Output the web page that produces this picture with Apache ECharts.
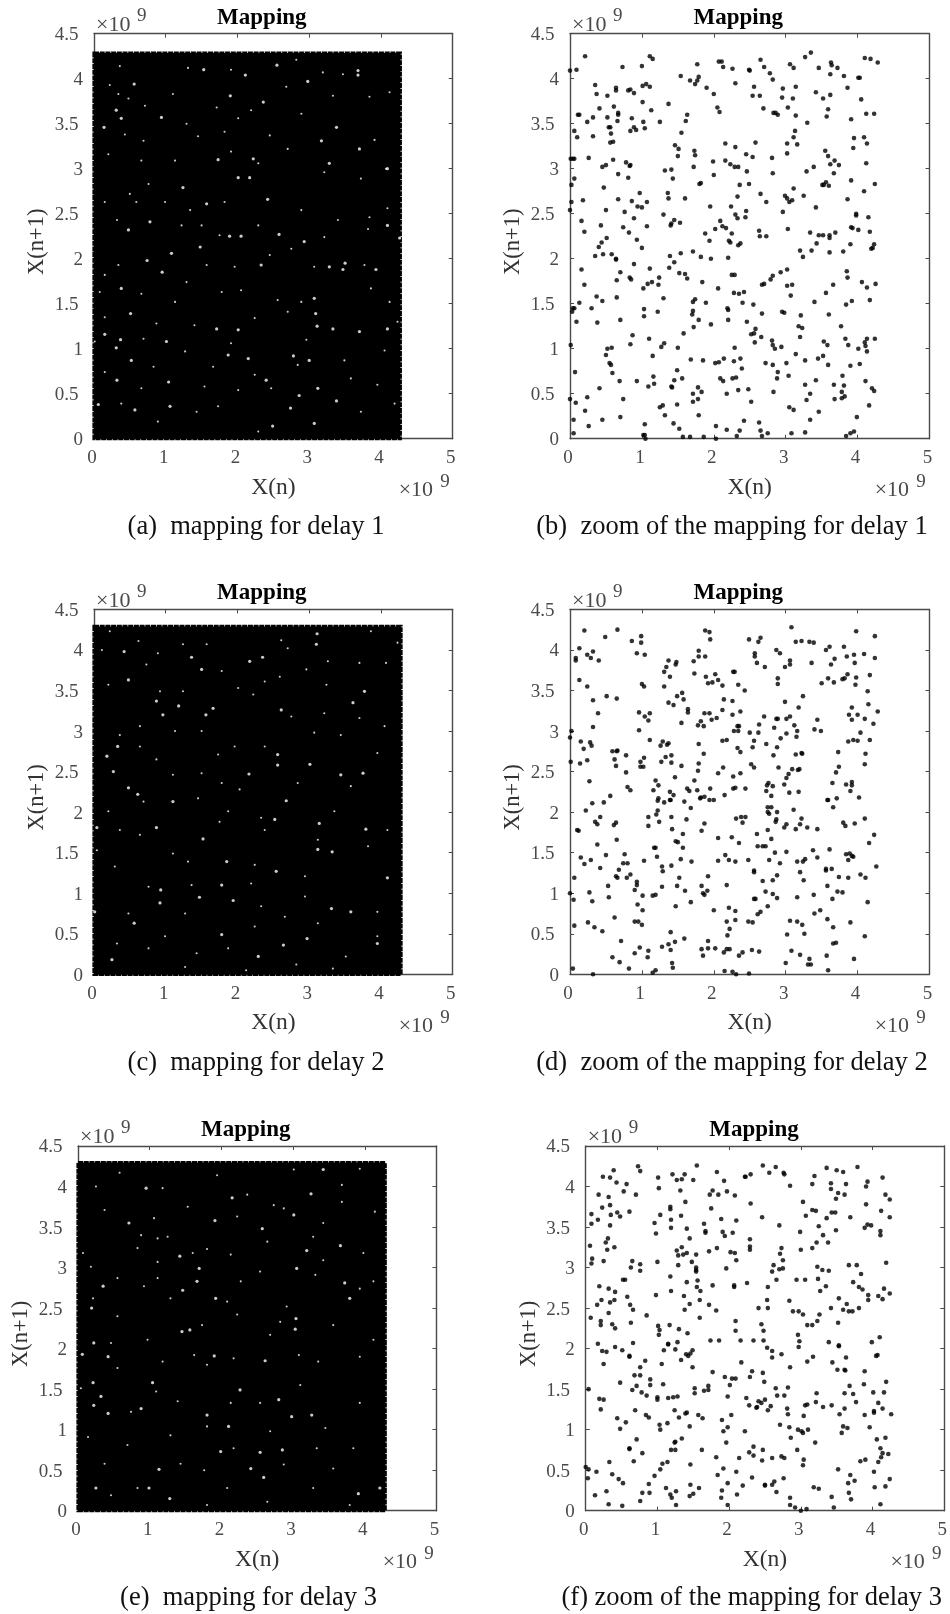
<!DOCTYPE html>
<html><head><meta charset="utf-8">
<style>html,body{margin:0;padding:0;background:#fff}#c{width:950px;height:1614px}</style>
<script src="https://cdn.jsdelivr.net/npm/echarts@6/dist/echarts.min.js"></script>
</head><body><div id="c"></div>
<script>
// All values are in units of 1e9.
var xTickValues = [0,1,2,3,4,5];
var yTickValues = [0,0.5,1,1.5,2,2.5,3,3.5,4,4.5];

// Panels (a), (c), (e) hold far too many overlapping points to read individually.
// They are drawn as the visible extent of the cloud [xMin,yMin,xMax,yMax] plus the white gaps that could be read.
var cloudExtentA = [[0,0,4.27,4.285]];
var cloudExtentC = [[0,0,4.28,4.29]];
var cloudExtentE = [[0,0,4.285,4.295]];

var gapsA = [[1.53,4.10],[2.55,4.15],[2.11,4.04],[2.98,3.97],[3.68,4.09],[3.68,4.04],[0.56,3.94],[1.90,3.81],[2.36,3.74],[0.38,3.56],[0.14,3.46],[0.31,3.65],[0.94,3.57],[3.38,3.46],[3.70,3.22],[3.17,3.31],[1.73,3.10],[3.28,3.06],[1.24,2.79],[1.57,2.61],[2.42,2.66],[4.09,3.00],[2.01,2.90],[2.17,2.90],[2.22,3.11],[0.78,2.41],[0.48,2.32],[1.89,2.25],[2.05,2.25],[2.58,2.27],[1.48,2.13],[2.93,2.19],[4.26,2.23],[1.08,2.06],[0.74,1.98],[0.95,1.85],[2.33,1.93],[3.50,1.95],[3.28,1.91],[3.47,1.88],[3.93,1.88],[0.38,1.67],[3.07,1.56],[3.09,1.39],[0.51,1.39],[3.11,1.25],[3.33,1.22],[4.09,1.22],[3.70,1.19],[0.15,1.16],[0.37,1.10],[1.01,1.08],[2.01,1.21],[0.31,1.01],[1.87,0.93],[2.78,0.92],[3.00,0.87],[0.52,0.87],[0.32,0.65],[1.04,0.63],[3.12,0.56],[2.86,0.48],[3.38,0.42],[2.74,0.34],[0.06,0.38],[1.06,0.36],[3.07,0.17],[2.49,0.14],[0.57,0.32],[2.15,0.89],[2.40,0.65],[1.71,1.22],[4.09,2.37]];
var gapsC = [[3.11,4.20],[0.42,3.98],[0.48,3.63],[1.36,3.91],[2.17,3.86],[2.35,3.91],[1.50,3.76],[3.10,4.07],[0.87,3.37],[1.18,3.31],[0.96,3.20],[1.56,3.20],[1.66,3.28],[2.61,3.26],[3.77,3.49],[3.61,3.35],[0.33,2.81],[2.56,2.71],[3.01,2.59],[0.18,2.69],[0.27,2.50],[2.16,2.47],[3.44,2.46],[3.75,2.48],[0.48,2.30],[0.61,2.22],[2.68,2.14],[2.52,1.91],[3.14,1.86],[3.79,1.79],[0.87,1.81],[1.52,1.67],[0.04,1.81],[3.12,1.54],[3.32,1.51],[1.85,1.39],[2.54,1.27],[4.09,1.19],[1.78,1.10],[0.93,1.04],[1.47,0.95],[0.92,0.88],[1.94,0.91],[3.31,0.81],[3.58,0.77],[0.56,0.63],[1.78,0.49],[2.64,0.36],[2.97,0.44],[0.25,0.18],[2.29,0.22],[3.95,0.38],[2.56,2.58],[1.10,2.13],[0.01,0.77]];
var gapsE = [[2.15,3.86],[3.25,3.91],[3.42,4.21],[0.71,3.55],[0.95,3.98],[1.91,3.58],[2.57,3.48],[3.01,3.65],[3.19,3.21],[3.66,3.27],[1.42,3.14],[1.69,2.99],[3.05,2.99],[0.35,2.77],[1.46,2.72],[3.79,2.62],[3.72,2.81],[1.66,2.83],[1.92,2.62],[0.19,2.50],[3.04,2.37],[1.45,2.21],[1.56,2.23],[3.03,2.24],[0.22,2.07],[0.42,1.90],[0.06,1.93],[1.90,1.91],[2.61,1.85],[0.21,1.58],[1.04,1.58],[2.26,1.49],[0.22,1.30],[0.32,1.41],[0.42,1.20],[0.88,1.26],[2.80,1.37],[1.80,1.18],[2.98,1.16],[3.26,1.18],[2.10,1.04],[1.99,0.73],[2.54,0.72],[2.85,0.75],[2.41,0.52],[1.13,0.51],[2.59,0.41],[0.99,0.28],[3.91,0.21],[4.21,0.28],[1.28,0.15],[0.25,0.28]];

var smallGapsA = [[0.36,4.14],[1.31,4.12],[1.91,4.10],[2.82,4.21],[3.19,4.07],[3.47,4.05],[0.22,3.93],[0.34,3.83],[0.48,3.78],[0.71,3.70],[1.10,3.83],[1.71,3.68],[2.19,3.65],[2.68,3.91],[3.33,3.81],[3.84,3.80],[4.12,3.85],[2.89,3.61],[2.01,3.56],[1.29,3.50],[0.43,3.38],[0.69,3.31],[1.45,3.36],[1.82,3.41],[2.45,3.37],[3.91,3.32],[0.20,3.16],[0.66,3.09],[1.13,3.09],[1.91,3.19],[2.29,3.06],[2.70,3.22],[3.21,2.96],[3.72,2.89],[4.07,3.00],[0.76,2.83],[0.50,2.72],[0.15,2.63],[0.59,2.63],[0.99,2.63],[1.34,2.54],[1.82,2.63],[2.89,2.54],[3.40,2.43],[3.84,2.46],[4.09,2.56],[0.32,2.43],[1.22,2.37],[1.50,2.37],[1.75,2.26],[2.29,2.37],[3.21,2.24],[3.82,2.33],[2.75,2.11],[2.45,2.04],[0.34,1.93],[1.57,1.93],[1.96,1.91],[3.07,1.91],[3.77,1.93],[0.15,1.82],[1.29,1.74],[2.05,1.65],[2.56,1.54],[2.89,1.52],[3.86,1.67],[0.08,1.63],[0.66,1.61],[1.13,1.52],[1.78,1.63],[4.12,1.52],[0.15,1.35],[0.87,1.28],[1.40,1.26],[2.24,1.34],[2.70,1.41],[4.23,1.30],[0.01,1.08],[0.69,1.11],[1.27,0.97],[1.91,1.06],[2.96,1.10],[3.49,0.87],[4.05,0.98],[0.83,0.80],[1.66,0.80],[2.24,0.71],[2.84,0.82],[3.58,0.67],[0.15,0.74],[0.66,0.56],[1.54,0.58],[2.01,0.54],[2.47,0.56],[3.95,0.60],[0.38,0.39],[0.89,0.19],[1.43,0.30],[1.73,0.36],[2.29,0.08],[3.72,0.30],[4.19,0.39]];
var smallGapsC = [[0.22,4.23],[0.62,4.11],[1.24,4.07],[1.57,4.07],[2.61,4.12],[3.86,4.23],[4.23,4.09],[0.11,4.00],[0.73,3.82],[0.89,3.96],[2.70,4.02],[2.96,3.76],[3.26,3.86],[3.70,3.84],[4.07,3.84],[1.78,3.74],[2.38,3.61],[2.59,3.67],[0.20,3.57],[0.92,3.49],[1.24,3.49],[2.01,3.53],[2.22,3.45],[3.24,3.57],[2.75,3.18],[3.21,3.22],[3.70,3.16],[4.05,3.06],[0.64,3.06],[1.13,3.00],[1.50,3.00],[0.36,2.95],[0.64,2.81],[1.96,2.81],[2.38,2.81],[3.07,2.98],[3.44,2.95],[1.73,2.71],[3.95,2.73],[0.87,2.65],[1.50,2.48],[1.10,2.46],[1.78,2.36],[2.84,2.36],[3.58,2.32],[2.03,2.28],[0.69,2.13],[1.45,2.17],[3.35,2.01],[1.87,2.01],[0.20,2.01],[0.36,1.78],[1.75,1.88],[2.33,1.93],[0.64,1.72],[2.38,1.78],[4.09,1.78],[3.12,1.66],[3.82,1.58],[0.04,1.53],[1.10,1.49],[1.31,1.39],[2.24,1.35],[0.29,1.33],[2.94,1.21],[0.76,1.08],[1.36,1.10],[2.19,1.12],[2.94,0.96],[2.33,0.84],[0.48,0.75],[3.95,0.77],[1.27,0.75],[2.66,0.71],[3.12,0.63],[2.24,0.59],[0.99,0.47],[3.95,0.47],[0.32,0.38],[0.76,0.32],[1.43,0.26],[1.87,0.32],[3.51,0.22],[2.82,0.12],[3.33,0.07],[2.12,0.05],[1.27,0.09]];
var smallGapsE = [[0.25,4.00],[0.58,4.17],[1.18,3.98],[1.94,4.14],[3.01,4.21],[3.93,4.22],[3.68,4.02],[0.37,3.71],[2.73,3.77],[2.87,3.73],[2.36,3.90],[3.68,3.81],[4.14,3.69],[1.06,3.61],[1.53,3.75],[2.22,3.63],[3.42,3.55],[0.88,3.40],[1.11,3.36],[1.25,3.38],[3.28,3.38],[2.64,3.32],[1.80,3.23],[0.07,3.18],[0.83,3.24],[1.60,3.18],[3.98,3.18],[0.18,3.01],[1.11,3.07],[2.13,3.16],[2.54,2.95],[3.42,3.09],[4.12,2.83],[0.55,2.87],[1.11,2.87],[2.27,2.83],[3.31,2.91],[3.93,2.74],[0.92,2.77],[1.29,2.62],[2.08,2.58],[0.21,2.62],[2.91,2.52],[0.55,2.40],[2.22,2.42],[2.82,2.33],[3.56,2.29],[4.12,2.11],[0.97,2.11],[1.73,2.29],[0.46,2.07],[2.68,2.17],[1.62,1.92],[2.17,1.88],[3.08,1.92],[1.18,1.84],[3.93,1.90],[0.55,1.76],[1.80,1.80],[3.35,1.84],[0.04,1.51],[1.09,1.47],[3.10,1.55],[3.93,1.33],[1.39,1.35],[2.54,1.33],[2.13,1.33],[0.74,1.22],[1.80,1.04],[2.68,0.98],[3.45,1.02],[0.14,0.91],[0.69,0.81],[1.29,0.93],[3.33,0.77],[3.84,0.77],[2.17,0.77],[0.37,0.58],[2.87,0.57],[1.43,0.58],[3.56,0.52],[1.76,0.50],[0.83,0.28],[2.08,0.28],[3.28,0.28],[0.46,0.19],[2.64,0.11],[3.79,0.07],[1.80,0.07]];

var pointsB = [[0.21,4.25],[0,4.09],[0.09,4.10],[0.73,4.13],[1.00,4.14],[1.11,4.25],[1.15,4.22],[0.35,3.93],[0.37,3.83],[0.52,3.81],[0.64,3.90],[0.64,3.87],[0.81,3.87],[0.84,3.88],[0.89,3.84],[1.01,3.92],[1.06,3.94],[1.11,3.91],[0.11,3.60],[0.13,3.60],[0.24,3.52],[0.32,3.57],[0.41,3.67],[0.61,3.69],[0.67,3.62],[0.67,3.60],[0.52,3.57],[0.66,3.53],[0.86,3.56],[1.01,3.74],[1.13,3.65],[1.02,3.52],[1.25,3.52],[1.37,3.72],[1.63,3.60],[1.61,3.53],[0.06,3.42],[0.10,3.35],[0.32,3.36],[0.54,3.46],[0.56,3.46],[0.57,3.39],[0.56,3.29],[0.60,3.30],[0.84,3.42],[0.89,3.46],[0.92,3.43],[1.04,3.45],[1.55,3.40],[0.01,3.11],[0.04,3.11],[0.06,3.11],[0.26,3.12],[0.60,3.10],[0.78,3.07],[0.84,3.04],[0.83,3.03],[0.45,3.02],[0.50,3.04],[0.67,2.94],[0.81,2.90],[0.06,2.89],[0.02,2.82],[0.47,2.79],[1.46,3.26],[1.51,3.22],[1.50,3.14],[1.73,3.20],[1.74,3.15],[1.72,3.02],[1.32,2.98],[1.41,2.99],[1.43,2.89],[1.36,2.73],[1.37,2.67],[1.60,2.67],[1.80,2.83],[1.82,2.84],[1.99,3.08],[2.00,2.93],[2.16,3.28],[2.30,3.24],[2.16,3.09],[2.23,3.05],[2.29,3.02],[2.34,3.02],[2.45,3.16],[2.54,3.13],[2.58,3.29],[2.46,2.97],[2.49,2.83],[2.36,2.82],[2.33,2.69],[2.65,2.72],[2.73,2.63],[2.81,3.12],[2.82,2.95],[3.02,3.28],[3.02,3.17],[3.11,2.78],[2.99,2.70],[3.02,2.67],[3.05,2.63],[3.09,2.65],[3.25,2.70],[3.29,2.97],[3.39,3.02],[3.13,3.42],[3.11,3.35],[3.16,3.27],[3.30,3.51],[3.55,3.20],[3.59,3.14],[3.68,3.09],[3.62,3.05],[3.74,3.04],[3.67,2.95],[3.51,2.82],[3.53,2.82],[3.56,2.85],[3.60,2.81],[3.91,3.55],[3.95,3.34],[3.94,3.23],[4.09,3.35],[4.13,3.28],[4.12,3.06],[3.91,2.87],[4.24,2.83],[4.09,2.75],[3.86,2.66],[3.42,2.57],[2.96,2.52],[4.12,3.61],[4.23,3.61],[4.05,3.77],[1.54,4.03],[1.67,3.98],[1.74,3.94],[1.77,3.98],[1.79,4.02],[1.77,4.16],[1.90,3.90],[2.00,3.83],[2.05,3.68],[2.08,3.63],[2.07,4.19],[2.11,4.19],[2.13,4.13],[2.26,4.11],[2.30,3.95],[2.49,4.10],[2.50,4.09],[2.65,4.21],[2.70,4.13],[2.78,4.06],[2.82,3.99],[2.56,3.91],[2.54,3.81],[2.64,3.81],[2.69,3.67],[2.83,3.62],[2.86,3.62],[2.89,3.60],[2.96,3.89],[2.95,3.79],[3.10,3.78],[3.03,3.68],[3.14,3.59],[3.14,3.91],[3.06,4.16],[3.11,4.12],[3.27,4.24],[3.35,4.29],[3.46,4.12],[3.42,3.85],[3.52,3.78],[3.62,3.82],[3.63,4.18],[3.64,4.15],[3.72,4.12],[3.81,4.03],[3.62,4.05],[3.59,3.66],[3.57,3.58],[3.86,3.90],[4.01,4.01],[4.03,4.01],[4.10,4.23],[4.18,4.22],[4.28,4.18],[0.18,2.65],[0.02,2.63],[0,2.54],[0.16,2.42],[0.20,2.30],[0.43,2.37],[0.50,2.54],[0.51,2.23],[0.44,2.18],[0.40,2.13],[0.35,2.03],[0.46,2.05],[0.58,2.05],[0.64,2.00],[0.67,2.66],[0.86,2.64],[0.94,2.58],[0.97,2.73],[1.00,2.57],[1.07,2.63],[0.76,2.52],[0.89,2.45],[0.74,2.35],[0.82,2.29],[1.07,2.36],[0.93,2.21],[1.00,2.12],[1.30,2.49],[1.45,2.43],[1.41,2.39],[1.40,2.37],[1.53,2.40],[1.39,2.03],[1.54,2.06],[1.71,2.08],[1.82,2.02],[1.96,2.00],[2.20,2.01],[1.88,2.28],[1.94,2.20],[1.95,2.58],[2.02,2.33],[2.09,2.42],[2.12,2.36],[2.17,2.34],[2.24,2.58],[2.25,2.28],[2.21,2.20],[2.23,2.18],[2.30,2.49],[2.33,2.45],[2.45,2.53],[2.44,2.46],[2.37,2.17],[2.34,2.15],[2.63,2.31],[2.64,2.25],[2.73,2.25],[3.03,2.33],[3.20,2.09],[3.24,2.02],[3.36,2.09],[3.34,2.29],[3.43,2.17],[3.46,2.26],[3.52,2.26],[3.61,2.26],[3.61,2.23],[3.69,2.29],[3.61,2.07],[3.80,2.08],[3.90,2.16],[3.91,2.35],[3.93,2.34],[4.01,2.32],[3.98,2.50],[3.98,2.48],[4.15,2.46],[4.17,2.30],[4.19,2.11],[4.21,2.12],[4.23,2.16],[0.16,1.88],[0.20,1.71],[0.13,1.51],[0.37,1.58],[0.45,1.53],[0.30,1.45],[0.38,1.29],[0.04,1.45],[0.06,1.45],[0.03,1.41],[0.09,1.30],[0.65,1.57],[0.65,1.76],[0.70,1.85],[0.64,1.99],[0.89,1.94],[0.83,1.79],[0.85,1.77],[1.02,1.67],[1.08,1.72],[1.14,1.74],[1.11,1.89],[1.23,1.71],[1.24,1.79],[1.38,1.90],[1.45,1.96],[1.52,1.84],[1.60,1.83],[1.63,1.78],[1.84,1.74],[1.30,1.56],[1.22,1.41],[1.03,1.44],[1.03,1.36],[0.70,1.32],[2.06,1.67],[1.71,1.52],[1.74,1.55],[1.89,1.51],[1.71,1.42],[1.70,1.38],[1.79,1.32],[1.72,1.24],[1.96,1.27],[1.58,1.17],[0.87,1.15],[0.84,1.05],[1.10,1.11],[1.31,1.06],[1.27,1.02],[1.50,1.01],[1.15,0.92],[0.01,1.04],[0.52,1.00],[0.58,1.01],[0.50,0.93],[0.55,0.84],[0.57,0.82],[0.59,0.73],[0.07,0.74],[0.69,0.64],[0.93,0.64],[1.09,0.58],[1.17,0.61],[1.16,0.69],[0.41,0.56],[0.74,0.44],[0.24,0.46],[0,0.44],[0.08,0.40],[0.21,0.31],[0.45,0.21],[0.70,0.24],[0.05,0.21],[0.26,0.14],[0.05,0.06],[1.04,0.16],[1.02,0.04],[1.04,0.04],[1.05,0],[1.41,0.58],[1.42,0.57],[1.45,0.65],[1.49,0.76],[1.56,0.67],[1.68,0.88],[1.85,0.87],[2.02,0.84],[2.07,0.85],[2.14,0.89],[2.29,1.01],[2.28,0.86],[2.37,0.89],[2.39,0.78],[2.09,0.67],[2.13,0.64],[2.26,0.67],[2.31,0.68],[2.34,0.54],[2.48,0.55],[2.18,0.50],[2.52,0.41],[1.78,0.57],[1.83,0.52],[1.71,0.50],[1.78,0.44],[1.71,0.41],[1.49,0.38],[1.25,0.35],[1.29,0.37],[1.32,0.26],[1.44,0.17],[1.52,0.11],[1.79,0.26],[1.57,0.02],[1.67,0.02],[1.86,0.02],[2.03,0],[2.03,0.14],[2.18,0.10],[2.32,0.03],[2.36,0.09],[2.42,0.20],[2.63,0.18],[2.65,0.09],[2.67,0.03],[2.75,0.06],[2.83,0.52],[2.89,0.74],[2.88,0.67],[2.82,0.82],[2.72,0.84],[3.01,0.84],[3.04,0.70],[3.05,0.35],[3.11,0.32],[3.08,0.06],[3.27,0.07],[3.34,0.21],[3.46,0.30],[3.29,0.43],[3.34,0.50],[3.27,0.60],[3.42,0.65],[3.27,0.87],[3.45,0.89],[3.52,0.92],[3.59,0.82],[3.14,0.94],[2.94,1.02],[2.85,1.00],[2.82,1.04],[2.81,1.09],[3.53,1.08],[3.58,1.04],[3.83,1.11],[3.87,1.04],[4.01,1.00],[4.10,1.07],[4.11,1.03],[4.13,0.97],[4.13,1.11],[4.24,1.11],[3.90,0.81],[4.03,0.83],[3.67,0.60],[3.79,0.70],[3.81,0.59],[3.78,0.52],[3.78,0.45],[3.82,0.47],[3.68,0.44],[4.11,0.64],[4.20,0.56],[4.23,0.53],[4.16,0.37],[3.99,0.24],[3.84,0.03],[3.90,0.06],[3.95,0.08],[3.18,1.25],[3.23,1.23],[3.20,1.13],[3.21,1.37],[2.95,1.41],[2.98,1.40],[2.67,1.39],[2.55,1.49],[2.40,1.51],[2.19,1.45],[2.20,1.43],[2.20,1.32],[2.46,1.30],[2.58,1.22],[2.52,1.16],[2.56,1.17],[2.66,1.13],[2.57,1.07],[2.28,1.62],[2.35,1.61],[2.42,1.63],[2.25,1.82],[2.29,1.82],[2.67,1.71],[2.70,1.72],[2.79,1.77],[2.82,1.81],[2.93,1.85],[3.02,1.88],[3.02,1.70],[3.09,1.71],[3.07,1.59],[3.40,1.52],[3.56,1.62],[3.66,1.71],[3.60,1.38],[3.77,1.25],[3.84,1.49],[3.92,1.53],[3.86,1.79],[3.85,1.86],[4.06,1.74],[4.13,1.68],[4.17,1.54],[4.25,1.72]];

var pointsD = [[0.20,4.24],[0.49,4.16],[0.66,4.25],[0.86,4.11],[0.99,4.17],[0.99,4.09],[0.93,3.96],[1.04,3.94],[0.13,4.02],[0.08,3.90],[0.08,3.87],[0.24,3.94],[0.29,3.90],[0.32,3.98],[0.40,3.87],[0.13,3.63],[0.24,3.55],[0.32,3.38],[0.51,3.43],[0.65,3.40],[0.39,3.22],[0.32,3.05],[1.00,3.58],[1.03,3.55],[0.96,3.23],[1.11,3.22],[1.04,3.18],[1.09,3.13],[0.96,3.01],[1.11,2.89],[0.02,3.00],[0,2.92],[0.15,2.87],[0.28,2.86],[0.30,2.82],[0.19,2.78],[0.01,2.62],[0.14,2.60],[0.24,2.64],[0.59,2.75],[0.65,2.75],[0.66,2.76],[0.78,2.70],[0.62,2.65],[0.64,2.57],[0.78,2.49],[0.27,2.38],[0.56,2.20],[0.80,2.31],[0.84,2.27],[1.03,2.67],[0.98,2.62],[0.98,2.56],[1.02,2.56],[1.19,2.39],[1.23,2.33],[1.16,2.27],[1.23,2.17],[1.29,2.87],[1.26,2.82],[1.35,2.83],[1.37,2.85],[1.41,2.70],[1.33,2.68],[1.27,2.62],[1.41,2.61],[1.55,2.57],[1.46,2.43],[1.39,2.25],[1.44,2.21],[1.39,2.15],[1.37,3.87],[1.34,3.79],[1.31,3.73],[1.47,3.82],[1.48,3.85],[1.39,3.67],[1.31,3.55],[1.37,3.35],[1.44,3.32],[1.49,3.43],[1.56,3.47],[1.58,3.39],[1.64,3.27],[1.64,3.23],[1.55,3.10],[1.72,3.86],[1.79,3.99],[1.79,3.92],[1.88,3.92],[1.73,3.71],[1.88,4.24],[1.94,4.22],[1.95,4.13],[1.89,3.67],[1.92,3.59],[1.98,3.60],[2.02,3.70],[2.06,3.63],[2.12,3.56],[2.14,3.39],[2.27,3.73],[2.29,3.73],[2.34,3.57],[2.43,3.50],[2.26,3.37],[2.12,3.26],[1.87,3.22],[1.94,3.22],[1.97,3.14],[2.04,3.16],[1.82,3.12],[1.78,3.07],[1.86,3.06],[2.26,3.20],[2.37,3.24],[2.33,3.06],[2.35,3.06],[2.28,3.00],[2.34,3.00],[2.12,2.88],[2.18,2.89],[1.79,2.84],[1.86,2.72],[1.79,2.60],[1.78,2.51],[1.73,2.39],[1.63,2.29],[1.66,2.26],[1.77,2.27],[1.95,2.29],[1.81,2.17],[1.87,2.19],[1.94,2.15],[2.00,2.15],[2.06,2.48],[2.13,2.55],[2.27,2.44],[2.37,2.48],[2.33,2.79],[2.37,2.74],[2.27,2.29],[2.30,2.30],[2.44,2.29],[2.15,2.21],[2.49,4.13],[2.62,4.10],[2.65,4.15],[2.57,3.96],[2.57,3.92],[2.60,3.84],[2.71,3.79],[2.87,4.00],[2.92,3.96],[3.06,3.87],[3.06,3.82],[2.99,3.79],[3.08,4.28],[3.14,4.10],[3.22,4.11],[3.33,4.10],[3.39,4.09],[3.36,3.84],[3.56,4.00],[3.61,4.04],[3.68,3.89],[3.63,3.82],[3.81,4.04],[3.85,3.92],[3.95,3.94],[3.96,3.84],[4.09,3.95],[3.98,4.23],[4.24,4.17],[4.24,3.90],[4.17,3.69],[3.98,3.66],[3.97,3.57],[3.86,3.70],[3.82,3.65],[3.79,3.64],[3.67,3.60],[3.59,3.65],[3.50,3.59],[2.89,3.65],[2.89,3.58],[4.14,3.49],[4.15,3.33],[4.28,3.24],[3.92,3.29],[3.88,3.20],[4.00,3.20],[3.92,3.14],[4.10,3.15],[4.22,3.09],[4.04,2.98],[3.94,2.89],[4.00,2.88],[3.87,2.87],[4.17,2.89],[4.11,2.72],[4.10,2.59],[3.73,2.74],[3.74,2.56],[3.70,2.49],[3.65,2.36],[3.84,2.34],[3.92,2.37],[3.92,2.33],[3.90,2.26],[4.02,2.18],[3.71,2.17],[3.58,2.15],[2.99,3.36],[3.24,3.43],[3.18,3.29],[2.70,3.18],[2.87,3.15],[2.89,3.15],[3.01,3.15],[3.06,3.18],[3.44,3.14],[2.63,3.08],[2.50,2.98],[2.62,2.98],[2.56,2.88],[2.54,2.80],[2.84,3.04],[3.12,3.07],[3.16,3.00],[3.01,2.97],[2.93,2.91],[3.15,2.93],[3.40,3.02],[3.49,3.00],[2.73,2.84],[2.88,2.80],[2.83,2.70],[3.14,2.71],[3.22,2.73],[3.23,2.72],[2.52,2.59],[2.56,2.55],[2.90,2.55],[3.09,2.53],[3.17,2.52],[3.19,2.53],[3.04,2.47],[3.01,2.42],[2.98,2.34],[2.76,2.36],[2.74,2.33],[2.82,2.32],[2.73,2.26],[2.80,2.20],[3.05,2.24],[3.18,2.25],[0.31,2.11],[0.47,2.12],[0.22,2.02],[0.42,1.94],[0.35,1.88],[0.38,1.85],[0.10,1.78],[0.12,1.77],[0.61,1.84],[0.64,1.87],[0.65,1.66],[0.38,1.60],[0.15,1.44],[0.20,1.36],[0.29,1.41],[0.50,1.47],[0.42,1.31],[0.06,1.19],[0.76,1.48],[0.74,1.37],[0.80,1.37],[0.68,1.29],[0.64,1.21],[0.66,1.19],[0.84,1.23],[0.79,1.19],[0.93,1.14],[0.93,1.10],[0.53,1.09],[0.90,1.04],[0.27,1.01],[0,1.00],[0.05,0.92],[0.31,0.90],[0.54,0.95],[1.01,0.97],[0.94,0.86],[1.01,0.79],[0.62,0.70],[0.06,0.60],[0.25,0.64],[0.34,0.58],[0.45,0.53],[0.90,0.65],[0.95,0.65],[1.00,0.61],[0.71,0.41],[0.97,0.33],[0.90,0.26],[0.59,0.21],[0.69,0.15],[0.82,0.07],[0.04,0.07],[0.32,0],[1.08,0.21],[1.09,0.29],[1.15,0.02],[1.19,0.05],[1.09,1.94],[1.09,1.83],[1.20,1.97],[1.22,2.02],[1.24,1.88],[1.22,2.14],[1.31,2.12],[1.40,2.15],[1.41,1.94],[1.42,1.79],[1.59,2.13],[1.68,2.05],[1.62,1.91],[1.57,1.73],[1.47,1.64],[1.50,1.63],[1.57,1.56],[1.17,1.56],[1.19,1.56],[1.21,1.45],[1.03,1.40],[1.28,1.33],[1.29,1.27],[1.41,1.34],[1.54,1.42],[1.69,1.39],[1.52,1.19],[1.28,1.08],[1.49,1.09],[1.60,1.03],[1.15,0.97],[1.19,0.98],[1.68,0.89],[1.47,0.84],[1.83,1.77],[1.87,1.86],[1.82,2.18],[2.06,1.68],[2.25,1.69],[2.35,1.62],[2.31,1.92],[2.38,1.94],[2.44,1.94],[2.40,1.87],[2.60,1.73],[2.61,1.58],[2.68,1.58],[2.72,1.58],[2.75,1.78],[2.80,1.67],[2.75,2.06],[2.80,2.06],[2.75,2.00],[2.77,1.98],[2.88,2.00],[2.87,1.91],[2.86,1.88],[2.98,1.81],[3.01,1.85],[3.11,2.03],[3.20,1.85],[3.22,1.92],[3.14,1.79],[3.30,1.81],[3.44,1.79],[3.59,2.15],[3.66,2.06],[3.80,1.87],[3.83,1.83],[3.96,1.86],[4.10,1.92],[4.23,1.72],[4.16,1.62],[3.01,1.51],[2.85,1.50],[2.77,1.41],[2.92,1.37],[2.48,1.41],[2.30,1.39],[2.21,1.41],[2.16,1.47],[2.06,1.40],[1.92,1.21],[1.83,1.09],[1.91,1.03],[1.85,1.00],[1.87,0.98],[2.18,1.10],[2.00,0.79],[2.21,0.82],[2.30,0.78],[2.30,0.67],[2.18,0.65],[2.56,1.28],[2.56,1.26],[2.68,1.15],[2.82,1.16],[2.88,1.22],[2.72,1.02],[2.82,0.99],[2.88,0.94],[2.56,0.93],[2.58,0.93],[2.75,0.84],[2.65,0.77],[2.61,0.74],[2.48,0.65],[2.54,0.64],[2.22,0.56],[2.19,0.48],[3.16,1.39],[3.24,1.39],[3.27,1.42],[3.38,1.53],[3.44,1.44],[3.61,1.54],[3.20,1.26],[3.25,1.16],[3.16,0.95],[3.39,0.98],[3.40,0.75],[3.48,0.79],[3.56,1.30],[3.56,1.28],[3.64,1.30],[3.58,1.09],[3.74,1.20],[3.72,1.02],[3.79,1.01],[3.65,0.93],[3.84,1.48],[3.89,1.49],[3.92,1.46],[3.94,1.45],[3.87,1.41],[3.87,1.19],[4.04,1.23],[4.11,1.19],[4.26,1.33],[4.14,0.89],[3.58,0.68],[3.66,0.58],[3.90,0.64],[4.10,0.47],[3.06,0.66],[3.16,0.65],[3.23,0.61],[3.26,0.50],[3.02,0.49],[3.08,0.29],[3.20,0.24],[3.33,0.19],[3.31,0.12],[3.35,0.12],[3.00,0.14],[3.57,0.23],[3.59,0.05],[3.66,0.38],[3.70,0.39],[3.95,0.19],[1.40,0.52],[1.59,0.44],[1.46,0.40],[1.37,0.37],[1.28,0.34],[1.40,0.30],[1.83,0.31],[1.92,0.32],[1.92,0.41],[2.02,0.32],[1.85,0.23],[2.14,0.27],[2.18,0.31],[2.22,0.31],[2.40,0.27],[2.35,0.23],[2.53,0.30],[2.63,0.28],[1.42,0.14],[1.43,0.08],[2.15,0.04],[2.26,0.03],[2.31,0],[2.49,0.01]];

var pointsF = [[0.39,4.20],[0.24,4.12],[0.34,4.11],[0.43,4.05],[0.73,4.25],[0.76,4.19],[0.57,4.03],[0.53,3.94],[0.70,3.90],[0.18,3.90],[0.32,3.87],[0.23,3.74],[0.34,3.77],[0.08,3.66],[0.08,3.54],[0.17,3.59],[0.35,3.65],[0.44,3.68],[0.48,3.63],[0.61,3.69],[0.34,3.52],[0.06,3.27],[0.31,3.36],[0.28,3.31],[0.30,3.22],[0.40,3.25],[0.09,3.11],[0.08,3.05],[0.25,3.08],[0.65,3.08],[0.63,3.00],[0.76,3.04],[0.76,2.96],[0.52,2.85],[0.55,2.85],[0.19,2.77],[0.32,2.74],[0.41,2.70],[0.40,2.60],[0.22,2.60],[0.16,2.54],[0.34,2.57],[0.32,2.44],[0.58,2.64],[0.62,2.54],[0.66,2.48],[0.07,2.38],[0.21,2.34],[0.21,2.29],[0.37,2.30],[0.41,2.25],[0.63,2.32],[0.85,2.41],[0.17,2.06],[0.66,2.07],[1.01,4.11],[1.02,3.98],[1.21,4.15],[1.27,4.08],[1.34,4.09],[1.38,4.15],[1.50,4.08],[1.55,4.26],[1.32,3.95],[1.18,3.75],[1.18,3.72],[1.39,3.81],[1.04,3.65],[0.96,3.55],[0.98,3.42],[1.19,3.59],[1.19,3.49],[1.33,3.64],[1.41,3.48],[1.65,3.54],[1.67,3.45],[1.67,3.43],[1.45,3.36],[1.34,3.25],[1.27,3.21],[1.29,3.15],[1.36,3.16],[1.41,3.18],[1.54,3.16],[1.72,3.20],[1.83,3.24],[1.48,3.07],[1.00,3.07],[1.29,3.03],[1.54,3.00],[1.54,2.97],[1.54,2.95],[1.18,2.89],[1.41,2.82],[1.56,2.84],[1.55,2.76],[1.60,2.71],[1.77,2.78],[1.19,2.71],[0.98,2.66],[1.37,2.65],[1.45,2.55],[1.38,2.48],[1.59,2.60],[1.72,2.54],[1.82,2.47],[1.59,2.38],[1.01,2.28],[1.03,2.23],[1.02,2.17],[1.17,2.29],[1.30,2.24],[1.42,2.19],[1.15,2.06],[1.28,2.08],[1.74,2.10],[1.86,2.10],[1.83,4.18],[1.93,4.07],[1.77,3.95],[1.73,3.90],[1.85,3.90],[1.97,3.94],[2.08,3.89],[1.75,3.73],[1.89,3.60],[2.10,3.58],[1.91,3.44],[1.94,3.39],[2.05,3.43],[2.02,3.19],[2.08,3.18],[2.10,3.09],[1.96,2.99],[2.07,2.78],[2.07,2.76],[2.25,2.81],[2.09,2.34],[2.09,2.22],[2.16,2.10],[2.22,4.12],[2.23,4.12],[2.30,4.15],[2.47,4.26],[2.56,4.17],[2.65,4.24],[2.76,4.17],[2.77,4.15],[2.85,4.01],[2.30,3.79],[2.46,3.62],[2.70,3.52],[2.29,3.35],[2.29,3.26],[2.29,3.22],[2.73,3.24],[2.71,3.17],[2.75,3.09],[2.62,3.03],[2.70,2.98],[2.75,2.99],[2.60,2.95],[2.66,2.85],[2.54,2.76],[2.53,2.60],[2.41,2.50],[2.54,2.50],[2.84,2.59],[2.89,2.46],[2.97,2.46],[3.03,2.42],[2.45,2.30],[2.48,2.22],[2.34,2.10],[2.48,2.10],[2.96,2.17],[2.98,2.09],[3.03,3.81],[3.16,4.03],[3.19,4.13],[3.36,4.23],[3.50,4.20],[3.59,4.18],[3.42,4.04],[3.42,3.97],[3.52,3.92],[3.61,3.90],[3.49,3.85],[3.63,4.03],[3.79,4.24],[3.16,3.71],[3.21,3.70],[3.07,3.64],[3.43,3.68],[3.48,3.68],[3.36,3.61],[3.69,3.62],[3.25,3.51],[2.99,3.44],[3.31,3.40],[3.49,3.46],[3.22,3.31],[3.38,3.31],[3.16,3.24],[3.00,3.22],[3.23,3.01],[3.30,2.97],[3.39,2.96],[3.67,3.03],[3.78,3.03],[3.84,2.92],[2.94,2.85],[3.06,2.85],[3.24,2.86],[3.27,2.71],[3.35,2.77],[3.73,2.82],[3.81,2.76],[3.86,2.73],[3.94,2.66],[3.94,2.60],[3.53,2.62],[3.64,2.55],[3.42,2.50],[3.59,2.48],[3.67,2.46],[3.72,2.46],[3.81,2.50],[3.26,2.42],[3.23,2.34],[3.16,2.29],[3.09,2.29],[3.52,2.32],[3.99,2.08],[4.10,2.14],[3.91,4.00],[3.93,4.06],[4.14,4.11],[4.18,3.90],[4.24,3.84],[3.91,3.78],[4.12,3.70],[4.24,3.62],[3.89,3.49],[3.93,3.53],[3.98,3.52],[4.11,3.45],[4.11,3.40],[4.19,3.06],[4.08,2.65],[4.14,2.61],[4.16,2.74],[4.24,2.68],[3.39,2.08],[3.53,2.04],[0.23,1.97],[0.29,1.96],[0.25,1.81],[0.41,2.02],[0.51,1.98],[0.61,1.91],[0.61,1.90],[0.83,1.85],[0.76,1.77],[0.68,1.67],[0.76,1.67],[0.90,1.62],[0.48,1.58],[0.71,1.54],[0.90,1.55],[0.04,1.50],[0.65,1.49],[0.78,1.46],[0.85,1.42],[0.19,1.38],[0.25,1.37],[0.21,1.25],[0.69,1.24],[0.44,1.14],[0.56,1.09],[0.48,1.01],[0.84,1.18],[0.88,1.15],[0.61,0.77],[0.61,0.76],[0.71,0.88],[0.79,0.71],[0.67,0.61],[0.33,0.60],[0,0.54],[0.04,0.51],[0.15,0.48],[0.03,0.40],[0.37,0.45],[0.46,0.39],[0.52,0.34],[0.13,0.19],[0.29,0.24],[0.32,0.08],[0.51,0.06],[0.76,0.12],[0.79,0.22],[0.88,0.33],[0.89,0.22],[0.96,0.43],[1.04,0.51],[1.07,0.58],[1.14,0.60],[1.12,0.28],[1.18,0.20],[1.20,0.16],[1.26,0.24],[1.26,0.07],[1.46,0.57],[1.46,0.32],[1.45,0.18],[1.50,0.21],[1.58,0.28],[1.09,1.98],[1.15,2.05],[1.25,1.99],[1.06,1.81],[1.33,1.86],[1.40,1.93],[1.43,1.91],[1.46,1.94],[1.49,1.98],[1.49,1.77],[1.08,1.56],[1.00,1.40],[1.00,1.37],[1.15,1.39],[1.22,1.40],[1.28,1.41],[1.52,1.51],[1.52,1.45],[1.65,1.48],[1.71,1.54],[1.71,1.49],[1.77,1.71],[1.24,1.24],[1.30,1.15],[1.39,1.20],[1.41,1.21],[1.03,1.06],[1.04,1.00],[1.14,1.08],[1.45,1.04],[1.57,1.18],[1.63,1.14],[1.34,0.89],[1.25,0.85],[1.24,0.84],[1.19,0.75],[1.25,0.75],[1.62,0.75],[1.94,1.65],[2.04,1.63],[2.09,1.63],[2.01,1.55],[1.98,1.41],[2.24,1.39],[2.29,1.65],[2.32,1.72],[2.47,1.70],[2.49,1.59],[2.17,1.83],[2.28,1.30],[2.03,1.18],[1.90,1.12],[1.92,0.98],[1.98,1.03],[1.96,0.84],[2.22,0.98],[2.38,1.27],[2.39,1.28],[2.41,1.35],[2.45,1.33],[2.50,1.37],[2.54,1.24],[2.58,1.29],[2.34,0.79],[2.28,0.72],[2.34,0.68],[2.47,0.75],[2.46,0.62],[2.60,0.65],[2.73,0.67],[2.77,0.65],[2.14,0.65],[1.82,0.66],[1.84,0.44],[1.92,0.52],[2.10,0.48],[1.98,0.34],[2.19,0.31],[2.32,0.41],[2.50,0.32],[2.50,0.31],[2.60,0.32],[2.63,0.36],[2.66,0.23],[2.76,0.40],[1.90,0.25],[1.89,0.16],[2.11,0.20],[1.98,0.07],[2.53,2.01],[2.60,1.97],[2.60,1.89],[2.73,1.93],[2.85,1.77],[2.65,1.51],[2.67,1.42],[2.77,1.42],[2.82,1.52],[2.81,1.26],[2.82,1.19],[2.71,1.06],[2.84,1.03],[2.86,0.90],[2.96,1.00],[3.01,0.98],[3.03,0.96],[3.10,1.00],[3.04,1.17],[3.06,1.30],[3.09,1.31],[3.22,1.45],[3.21,1.34],[3.31,1.28],[3.43,1.30],[3.20,0.84],[2.95,0.75],[3.04,0.63],[3.03,0.56],[3.18,0.29],[3.25,0.27],[2.85,0.16],[2.85,0.07],[2.92,0.04],[3.00,0],[3.08,0.02],[3.43,0.17],[3.46,0.04],[2.97,2.02],[3.09,1.84],[3.17,1.90],[3.44,1.83],[3.51,1.74],[3.61,1.74],[3.62,1.73],[3.63,1.89],[3.53,2.03],[3.68,1.54],[3.61,1.45],[3.73,1.44],[3.77,1.34],[3.61,1.26],[3.54,1.19],[3.59,1.04],[3.65,1.02],[3.57,0.96],[3.89,1.72],[3.88,1.56],[4.01,1.46],[4.16,1.46],[4.19,1.59],[4.08,1.33],[4.14,1.26],[4.02,1.23],[4.02,1.21],[3.89,1.18],[4.26,1.19],[3.96,1.03],[4.06,0.88],[4.18,0.90],[4.11,0.77],[4.14,0.71],[4.22,0.70],[4.12,0.66],[4.08,0.60],[3.83,0.61],[3.90,0.63],[3.52,0.51],[3.69,0.44],[3.66,0.34],[3.75,0.37],[4.02,0.48],[4.03,0.29],[4.24,0.39],[4.18,0.30],[3.67,0.22],[3.70,0.14],[4.11,0.08],[4.05,1.91],[4.07,1.92]];

var titleText = 'Mapping';
var xName = 'X(n)';
var yName = 'X(n+1)';
var captions = ['(a)  mapping for delay 1','(b)  zoom of the mapping for delay 1','(c)  mapping for delay 2','(d)  zoom of the mapping for delay 2','(e)  mapping for delay 3','(f) zoom of the mapping for delay 3'];

var SERIF = '"Liberation Serif","Times New Roman",serif';
var GREY = '#4a4a4a';
var frames = [
  {l:94,   r:452.7, t:33.7,  b:438.7,  capX:256,   capY:526.7, cloud:cloudExtentA, gaps:gapsA, small:smallGapsA},
  {l:570,  r:929.5, t:33.7,  b:438.7,  capX:732,   capY:526.7, pts:pointsB},
  {l:94,   r:452.7, t:609.4, b:974.3,  capX:256,   capY:1063,  cloud:cloudExtentC, gaps:gapsC, small:smallGapsC},
  {l:570,  r:929.5, t:609.4, b:974.3,  capX:732,   capY:1063,  pts:pointsD},
  {l:78,   r:436.5, t:1146,  b:1510.7, capX:248.5, capY:1598,  cloud:cloudExtentE, gaps:gapsE, small:smallGapsE},
  {l:585.7,r:945.3, t:1146,  b:1510.7, capX:751.7, capY:1598,  pts:pointsF}
];

var option = {animation:false, backgroundColor:'#fff', grid:[], xAxis:[], yAxis:[], series:[], graphic:{elements:[]}, title:[]};

function txt(t,x,y,size,color,align,weight){
  option.graphic.elements.push({type:'text',x:x,y:y,silent:true,style:{text:t,fontFamily:SERIF,fontSize:size,fontWeight:weight||'normal',fill:color,align:align||'left',verticalAlign:'middle'}});
}

frames.forEach(function(f,i){
  option.grid.push({left:f.l,top:f.t,width:f.r-f.l,height:f.b-f.t,containLabel:false,show:false});
  var lineStyle={color:GREY,width:1.4};
  var tick={show:true,inside:true,length:4,lineStyle:{color:GREY,width:1}};
  var xLabel={show:true,color:GREY,fontFamily:SERIF,fontSize:19,margin:10,
    formatter:function(v){return xTickValues.indexOf(v)>=0?'{x|'+v+'}':'';},
    rich:{x:{fontFamily:SERIF,fontSize:19,color:GREY,padding:[0,4,0,0]}}};
  var yLabel={show:true,color:GREY,fontFamily:SERIF,fontSize:19,margin:11,
    formatter:function(v){return (Number.isInteger(v)?'{i|':'{f|')+v+'}';},
    rich:{i:{fontFamily:SERIF,fontSize:19,color:GREY,padding:[3,0,0,0]},
          f:{fontFamily:SERIF,fontSize:19,color:GREY,padding:[3,4.6,0,0]}}};
  option.xAxis.push(
    {type:'value',gridIndex:i,min:xTickValues[0],max:xTickValues[5],interval:1,position:'bottom',splitLine:{show:false},axisLine:{show:true,onZero:false,lineStyle:lineStyle},axisTick:tick,axisLabel:xLabel,
     name:xName,nameLocation:'middle',nameGap:37,nameTextStyle:{fontFamily:SERIF,fontSize:23.5,color:'#333'}},
    {type:'value',gridIndex:i,min:xTickValues[0],max:xTickValues[5],interval:1,position:'top',splitLine:{show:false},axisLine:{show:true,onZero:false,lineStyle:lineStyle},axisTick:tick,axisLabel:{show:false}}
  );
  option.yAxis.push(
    {type:'value',gridIndex:i,min:yTickValues[0],max:yTickValues[9],interval:0.5,position:'left',splitLine:{show:false},axisLine:{show:true,onZero:false,lineStyle:lineStyle},axisTick:tick,axisLabel:yLabel,
     name:yName,nameLocation:'middle',nameGap:45,nameTextStyle:{fontFamily:SERIF,fontSize:22.5,color:'#333',padding:[0,11,0,0]}},
    {type:'value',gridIndex:i,min:yTickValues[0],max:yTickValues[9],interval:0.5,position:'right',splitLine:{show:false},axisLine:{show:true,onZero:false,lineStyle:lineStyle},axisTick:tick,axisLabel:{show:false}}
  );
  var xi=i*2, yi=i*2;
  if(f.cloud){
    option.series.push({type:'custom',xAxisIndex:xi,yAxisIndex:yi,z:3,clip:false,silent:true,data:f.cloud,encode:{x:[0,2],y:[1,3]},
      renderItem:function(p,api){
        var a=api.coord([api.value(0),api.value(1)]), b=api.coord([api.value(2),api.value(3)]);
        return {type:'rect',shape:{x:a[0],y:b[1],width:b[0]-a[0],height:a[1]-b[1]},style:{fill:'#000',stroke:'#000',lineWidth:3.2,lineDash:[5,0.7]}};
      }});
    option.series.push({type:'scatter',xAxisIndex:xi,yAxisIndex:yi,z:4,silent:true,data:f.gaps,symbol:'circle',symbolSize:3.2,itemStyle:{color:'#fff'},emphasis:{disabled:true}});
    option.series.push({type:'scatter',xAxisIndex:xi,yAxisIndex:yi,z:4,silent:true,data:f.small,symbol:'circle',symbolSize:2.1,itemStyle:{color:'#fff'},emphasis:{disabled:true}});
  } else {
    option.series.push({type:'scatter',xAxisIndex:xi,yAxisIndex:yi,z:3,silent:true,clip:false,data:f.pts,symbol:'circle',symbolSize:4.6,itemStyle:{color:'#000'},emphasis:{disabled:true}});
  }
  var w=f.r-f.l;
  txt(titleText,f.l+w/2-11.5,f.t-16,23,'#000','center','bold');
  txt('×10',f.l+2,f.t-8.5,22,GREY);
  txt('9',f.l+43,f.t-17.5,19,GREY);
  txt('×10',f.l+304.7,f.b+51.7,22,GREY);
  txt('9',f.l+346.3,f.b+43.7,19,GREY);
  txt(captions[i],f.capX,f.capY,26.5,'#111','center');
});

var chart=echarts.init(document.getElementById('c'),null,{renderer:'canvas',width:950,height:1614});
chart.setOption(option);
</script></body></html>
